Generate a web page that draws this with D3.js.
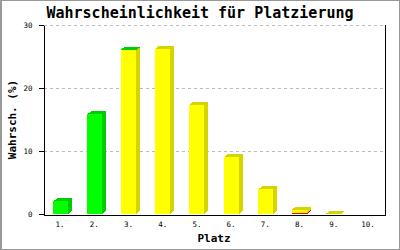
<!DOCTYPE html>
<html>
<head>
<meta charset="utf-8">
<script src="https://cdn.jsdelivr.net/npm/d3@7"></script>
<style>
  body { margin: 0; background: #fff; }
  svg text { font-family: "DejaVu Sans Mono", monospace; }
</style>
</head>
<body>
<div class="chart"></div>
<script>
// data
var categories = ['1.', '2.', '3.', '4.', '5.', '6.', '7.', '8.', '9.', '10.'];
var redValues = [0, 0, 0, 0, 0, 0, 0, 0.15, 0, 0];
var yellowValues = [0, 0, 26.0, 26.2, 17.3, 9.05, 3.9, 0.55, 0.05, 0];
var greenValues = [2.0, 15.8, 0.1, 0, 0, 0, 0, 0, 0, 0];
var yTicks = [0, 10, 20, 30];

var series = [
  { key: 'red', front: '#ff0000', dark: '#cc0000' },
  { key: 'yellow', front: '#ffff00', dark: '#d4d400' },
  { key: 'green', front: '#00ff00', dark: '#00cc00' }
];

var width = 400, height = 250;
var plotLeft = 43, plotRight = 385, plotTop = 25, plotBottom = 214;
var barW = 15, dx = 4, dy = 3;

var svg = d3.select('.chart').append('svg')
            .attr('width', width)
            .attr('height', height)
            .attr('shape-rendering', 'crispEdges');

// outer frame
svg.append('rect')
   .attr('x', 0.5).attr('y', 0.5)
   .attr('width', width - 1).attr('height', height - 1.5)
   .attr('fill', 'none').attr('stroke', '#999');
svg.append('line').attr('x1', 1.5).attr('x2', 1.5).attr('y1', 0).attr('y2', height)
   .attr('stroke', '#999');

var x = d3.scaleBand().domain(categories).range([plotLeft, plotRight]);
var y = d3.scaleLinear().domain([0, 30]).range([plotBottom, plotTop]);

// grid
svg.selectAll('.grid')
   .data(yTicks.slice(1))
   .enter()
   .append('line')
   .attr('class', 'grid')
   .attr('x1', plotLeft + 1).attr('x2', plotRight)
   .attr('y1', function(d) { return Math.round(y(d)) + 0.5; })
   .attr('y2', function(d) { return Math.round(y(d)) + 0.5; })
   .attr('stroke', '#bbb')
   .attr('stroke-dasharray', '3,3');

// stacked 3d bars
var stack = d3.stack().keys(['red', 'yellow', 'green']);
var rows = categories.map(function(c, i) {
  return { cat: c, red: redValues[i], yellow: yellowValues[i], green: greenValues[i] };
});
var stacked = stack(rows);

stacked.forEach(function(layer, si) {
  var s = series[si];
  layer.forEach(function(seg) {
    var v = seg[1] - seg[0];
    if (v <= 0) return;
    var x0 = Math.round(x(seg.data.cat) + x.bandwidth() / 2 - barW / 2);
    var y0 = y(seg[0]), y1 = y(seg[1]);
    var g = svg.append('g');
    g.append('rect')
     .attr('x', x0).attr('y', y1)
     .attr('width', barW).attr('height', Math.max(y0 - y1, 0.5))
     .attr('fill', s.front);
    g.append('path')
     .attr('d', 'M' + (x0 + barW) + ',' + y1 + 'L' + (x0 + barW + dx) + ',' + (y1 - dy) +
                'L' + (x0 + barW + dx) + ',' + (y0 - dy) + 'L' + (x0 + barW) + ',' + y0 + 'Z')
     .attr('fill', s.dark);
    g.append('path')
     .attr('d', 'M' + x0 + ',' + y1 + 'L' + (x0 + dx) + ',' + (y1 - dy) +
                'L' + (x0 + barW + dx) + ',' + (y1 - dy) + 'L' + (x0 + barW) + ',' + y1 + 'Z')
     .attr('fill', s.dark);
  });
});

// axes
var yAxis = d3.axisLeft(y).tickValues(yTicks).tickSize(5).tickSizeOuter(0).tickPadding(6);
var gy = svg.append('g').attr('transform', 'translate(' + (plotLeft + 0.5) + ',0)').call(yAxis);
gy.selectAll('text').style('font-size', '7.5px').attr('fill', '#000');
gy.selectAll('line').attr('stroke', '#000');
gy.select('.domain').attr('stroke', '#000');

var xAxis = d3.axisBottom(x).tickSize(0).tickSizeOuter(0).tickPadding(7);
var gx = svg.append('g').attr('transform', 'translate(0,' + (plotBottom + 0.5) + ')').call(xAxis);
gx.selectAll('text').style('font-size', '7.5px').attr('fill', '#000');
gx.select('.domain').attr('stroke', '#000');

svg.append('line')
   .attr('x1', plotRight + 0.5).attr('x2', plotRight + 0.5)
   .attr('y1', plotTop).attr('y2', plotBottom + 1)
   .attr('stroke', '#000');

// labels
svg.append('text')
   .attr('x', 200).attr('y', 17.5)
   .attr('text-anchor', 'middle')
   .style('font-size', '15px').style('font-weight', 'bold')
   .text('Wahrscheinlichkeit für Platzierung');

svg.append('text')
   .attr('x', (plotLeft + plotRight) / 2).attr('y', 242)
   .attr('text-anchor', 'middle')
   .style('font-size', '11px').style('font-weight', 'bold')
   .text('Platz');

svg.append('text')
   .attr('transform', 'translate(16,' + ((plotTop + plotBottom) / 2) + ') rotate(-90)')
   .attr('text-anchor', 'middle')
   .style('font-size', '11px').style('font-weight', 'bold')
   .text('Wahrsch. (%)');
</script>
</body>
</html>
